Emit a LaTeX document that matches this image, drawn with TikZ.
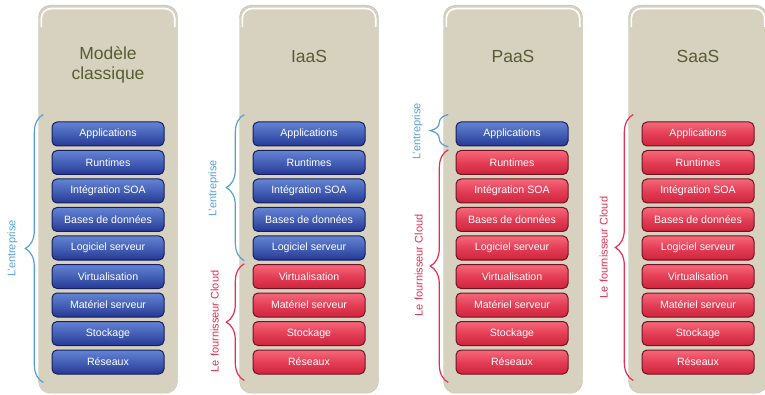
\documentclass[tikz,border=0pt]{standalone}
\usepackage{fontspec}
\setmainfont{Liberation Sans}
\usetikzlibrary{calc,decorations.pathreplacing}

\definecolor{panelbg}{RGB}{214,210,191}
\definecolor{panelrim}{RGB}{196,192,172}
\definecolor{titlecol}{RGB}{88,92,52}
\definecolor{enttop}{RGB}{100,132,212}
\definecolor{entmid}{RGB}{68,96,182}
\definecolor{entbot}{RGB}{38,56,148}
\definecolor{entedge}{RGB}{22,30,92}
\definecolor{cloudtop}{RGB}{246,104,122}
\definecolor{cloudmid}{RGB}{228,62,86}
\definecolor{cloudbot}{RGB}{206,36,60}
\definecolor{cloudedge}{RGB}{112,20,34}
\definecolor{braceblue}{RGB}{84,160,214}
\definecolor{bracered}{RGB}{224,48,84}

\tikzset{
  panel/.style={draw=panelrim, fill=panelbg, rounded corners=12pt,
    minimum width=139pt, minimum height=388pt, inner sep=0pt},
  layer/.style={rounded corners=5pt, minimum width=112pt, minimum height=24pt,
    inner sep=0pt, line width=1pt, text=white, font=\fontsize{10.6}{12}\selectfont},
  entbox/.style={layer, draw=entedge, top color=enttop, bottom color=entbot, middle color=entmid},
  cloudbox/.style={layer, draw=cloudedge, top color=cloudtop, bottom color=cloudbot, middle color=cloudmid},
  title/.style={text=titlecol, font=\fontsize{17.5}{19.5}\selectfont, align=center},
  bracepath/.style={decorate, decoration={brace, amplitude=18pt}, line width=1.2pt},
  bracelabel/.style={rotate=90, anchor=south, font=\fontsize{11}{13}\selectfont}
}

\begin{document}
\begin{tikzpicture}[x=1pt, y=-1pt]
  \useasboundingbox (0,0) rectangle (765,395);

  % Panels
  \node[panel, anchor=north] (p1) at (108,5) {};
  \node[panel, anchor=north] (p2) at (309,5) {};
  \node[panel, anchor=north] (p3) at (513,5) {};
  \node[panel, anchor=north] (p4) at (698,5) {};

  % White rim along the top of each panel
  \foreach \p in {p1,p2,p3,p4}
    \draw[white, line width=1.6pt, rounded corners=10pt]
      ($(\p.north west)+(3,22)$) |- ($(\p.north)+(0,3.5)$) -| ($(\p.north east)+(-3,22)$);

  % Titles
  \node[title] (t1) at (108,65) {Modèle\\classique};
  \node[title] (t2) at (309,56) {IaaS};
  \node[title] (t3) at (513,56) {PaaS};
  \node[title] (t4) at (698,56) {SaaS};

  % Layers (blue = l'entreprise, red = fournisseur)
  \foreach \col/\cx/\nb in {1/108/9, 2/309/5, 3/512/1, 4/698/0}
    \foreach \txt [count=\i] in {Applications, Runtimes, Intégration SOA, Bases de données,
        Logiciel serveur, Virtualisation, Matériel serveur, Stockage, Réseaux} {
      \ifnum\i>\nb \def\sty{cloudbox}\else \def\sty{entbox}\fi
      \node[\sty] (b\col-\i) at (\cx, {105.5+28.5*\i}) {\txt};
    }

  % Brace end points
  \coordinate (top1) at ($(p1.west |- b1-1.north)+(5,-7)$);
  \coordinate (bot1) at ($(p1.west |- b1-9.south)+(5,8)$);
  \coordinate (top2) at ($(p2.west |- b2-1.north)+(5,-7)$);
  \coordinate (mid2) at ($(p2.west |- b2-5.south)!0.5!(p2.west |- b2-6.north)+(5,0)$);
  \coordinate (bot2) at ($(p2.west |- b2-9.south)+(5,6)$);
  \coordinate (top3) at ($(p3.west |- b3-1.north)+(5,-7)$);
  \coordinate (mid3) at ($(p3.west |- b3-1.south)!0.5!(p3.west |- b3-2.north)+(5,0)$);
  \coordinate (bot3) at ($(p3.west |- b3-9.south)+(5,8)$);
  \coordinate (top4) at ($(p4.west |- b4-1.north)+(5,-7)$);
  \coordinate (bot4) at ($(p4.west |- b4-9.south)+(5,6)$);

  % Braces
  \draw[bracepath, braceblue] (bot1) -- (top1);
  \draw[bracepath, braceblue] ($(mid2)+(0,-1.5)$) -- (top2);
  \draw[bracepath, bracered] (bot2) -- ($(mid2)+(0,1.5)$);
  \draw[bracepath, braceblue] ($(mid3)+(0,-1.5)$) -- (top3);
  \draw[bracepath, bracered] (bot3) -- ($(mid3)+(0,1.5)$);
  \draw[bracepath, bracered] (bot4) -- (top4);

  % Labels
  \node[bracelabel, text=braceblue] (l1) at ($(top1)!0.5!(bot1)+(-22,0)$) {L'entreprise};
  \node[bracelabel, text=braceblue] (l2) at ($(top2)!0.5!(mid2)+(-22,0)$) {L'entreprise};
  \node[bracelabel, text=bracered] (l3) at ($(mid2)!0.5!(bot2)+(-22,0)$) {Le fournisseur Cloud};
  \node[bracelabel, text=braceblue] (l4) at ($(top3)!0.5!(mid3)+(-22,0)$) {L'entreprise};
  \node[bracelabel, text=bracered] (l5) at ($(mid3)!0.5!(bot3)+(-22,0)$) {Le fournisseur Cloud};
  \node[bracelabel, text=bracered] (l6) at ($(top4)!0.5!(bot4)+(-22,0)$) {Le fournisseur Cloud};
\end{tikzpicture}
\end{document}
